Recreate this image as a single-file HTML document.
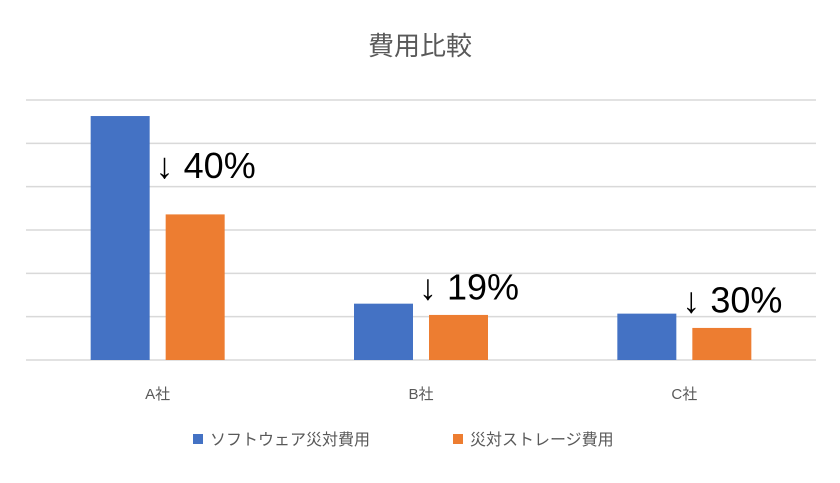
<!DOCTYPE html>
<html><head><meta charset="utf-8"><style>
body{margin:0;background:#fff;}
svg text{font-family:"Liberation Sans","Noto Sans CJK JP",sans-serif;}
</style></head><body>
<svg id="chart" width="840" height="478" viewBox="0 0 840 478" xmlns="http://www.w3.org/2000/svg">
<rect width="840" height="478" fill="#fff"/>
<text x="420" y="55" text-anchor="middle" font-size="26" fill="#595959">費用比較</text>
<g id="grid"></g><g id="bars"></g><g id="labels"></g>
<g>
<rect x="193" y="434" width="10" height="10" fill="#4472c4"/>
<text x="210" y="445" font-size="16" fill="#595959">ソフトウェア災対費用</text>
<rect x="453" y="434" width="10" height="10" fill="#ed7d31"/>
<text x="470" y="445" font-size="16" fill="#595959">災対ストレージ費用</text>
</g>
</svg>
<script>
const categories=["A社","B社","C社"];
const software=[5.63,1.30,1.07];
const storage=[3.36,1.04,0.74];
const reductions=["↓ 40%","↓ 19%","↓ 30%"];
const annotY=[4.2,1.4,1.1];
const yTicks=[0,1,2,3,4,5,6];

const NS="http://www.w3.org/2000/svg";
const x0=26,x1=816,yBase=360,yTop=100,yMax=6;
const band=(x1-x0)/categories.length;
const y=v=>yBase-(v/yMax)*(yBase-yTop);
const xc=i=>x0+band*(i+0.5);
function mk(t,a,p){const e=document.createElementNS(NS,t);for(const k in a)e.setAttribute(k,a[k]);p.appendChild(e);return e;}
const g=document.getElementById('grid'),b=document.getElementById('bars'),l=document.getElementById('labels');
yTicks.forEach(t=>{
 const e=mk('line',{x1:x0,x2:x1,y1:y(t),y2:y(t),stroke:'#d9d9d9','stroke-width':1.5},g);
 
 
});
const bw=59,gap=16;
categories.forEach((c,i)=>{
 const cx=xc(i);
 const r1=mk('rect',{x:cx-gap/2-bw,y:y(software[i]),width:bw,height:yBase-y(software[i]),fill:'#4472c4'},b);
 
 
 const r2=mk('rect',{x:cx+gap/2,y:y(storage[i]),width:bw,height:yBase-y(storage[i]),fill:'#ed7d31'},b);
 
 
 const t=mk('text',{x:cx,y:399,'text-anchor':'middle','font-size':15,fill:'#595959'},l);
 t.textContent=c;
 
 
 const a=mk('text',{x:cx-2,y:y(annotY[i]),'font-size':36,fill:'#000'},l);
 a.textContent=reductions[i];
 
 
});
</script>
</body></html>
